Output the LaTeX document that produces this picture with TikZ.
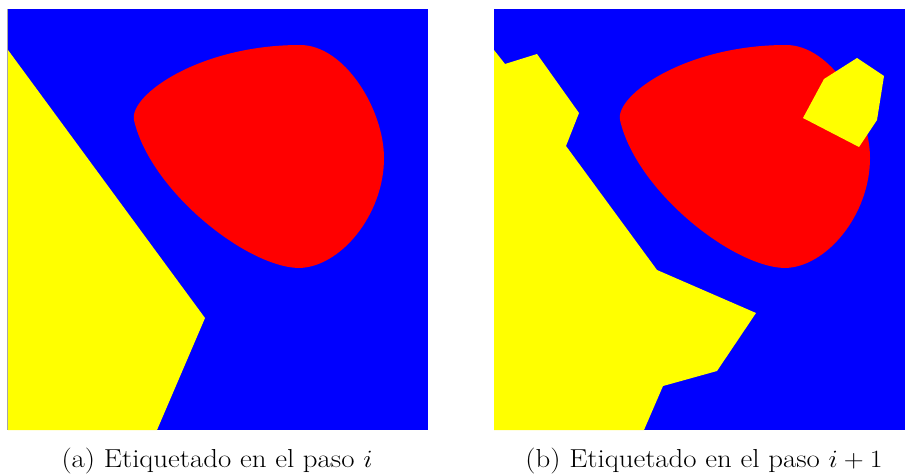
\documentclass[tikz,border=0pt]{standalone}
\usepackage{fontspec}
\usepackage{graphicx}
\usepackage{tikz}
\definecolor{pblue}{RGB}{0,0,255}
\definecolor{pred}{RGB}{255,0,0}
\definecolor{pyellow}{RGB}{255,255,0}
\tikzset{
  caption/.style={anchor=base,inner sep=0pt,
    font=\fontsize{26}{30}\selectfont},
  blob/.style={fill=pred},
}
\newcommand{\blobpath}{(134,120) .. controls (129,95) and (200,45) .. (300,45)
  .. controls (345,45) and (384,110) .. (384,158)
  .. controls (384,215) and (340,268) .. (298,268)
  .. controls (245,266) and (150,190) .. (134,120) -- cycle}
\newcommand{\capstretch}[1]{\scalebox{1.11}[1]{#1}}
\begin{document}
\begin{tikzpicture}[x=1pt,y=-1pt]
\useasboundingbox[fill=white] (0,0) rectangle (905,476);
% ---- panel (a)
\fill[pblue] (8,9) rectangle (428,430);
\fill[pyellow] (8,50) -- (205,318) -- (157,430) -- (8,430) -- cycle;
\draw[gray!70,line width=0.6pt] (7,9) -- (7,430);
\fill[blob] \blobpath;
% ---- panel (b)
\begin{scope}
\clip (494,9) rectangle (905,430);
\fill[pblue] (494,9) rectangle (916,430);
\begin{scope}[xshift=486pt]
\fill[blob] \blobpath;
\end{scope}
\fill[pyellow] (494,50) -- (505,64) -- (537,54) -- (579,113) -- (566,146)
  -- (657,270) -- (756,313) -- (717,371) -- (663,386) -- (644,430)
  -- (494,430) -- cycle;
\fill[pyellow] (857,58) -- (884,76) -- (877,120) -- (859,147) -- (803,118)
  -- (824,79) -- cycle;
\end{scope}
% ---- captions
\node[caption] (capa) at (217,467) {\capstretch{(a) Etiquetado en el paso $i$}};
\node[caption] (capb) at (704,467) {\capstretch{(b) Etiquetado en el paso $i+1$}};
\end{tikzpicture}
\end{document}
